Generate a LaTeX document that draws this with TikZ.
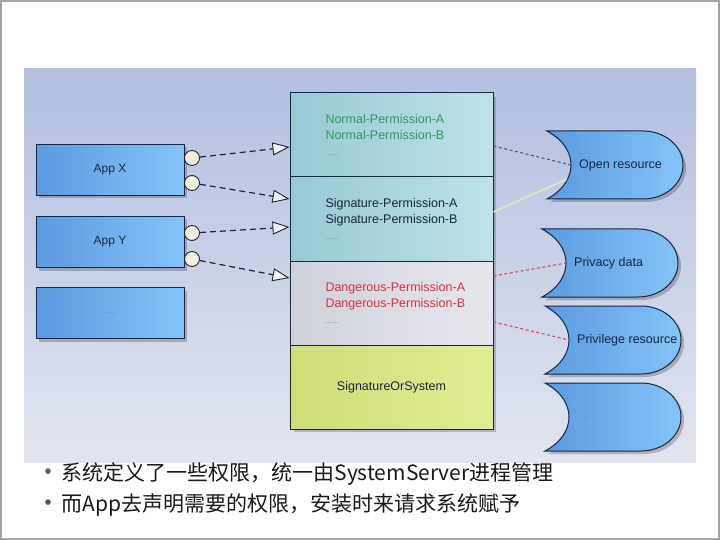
\documentclass[tikz,border=0pt]{standalone}
\usepackage{fontspec}
\setmainfont{Liberation Sans}
\newfontfamily\cjk{Noto Sans CJK SC}
\usepackage{tikz}
\usetikzlibrary{
	positioning,
	arrows.meta,
	calc,
	shadows
}
\definecolor{navy}{HTML}{1B2440}
\definecolor{panelT}{HTML}{B3BFE1}
\definecolor{panelB}{HTML}{E1E5EF}
\definecolor{appL}{HTML}{5B9BDF}
\definecolor{appR}{HTML}{84C4FA}
\definecolor{tealL}{HTML}{98C9D3}
\definecolor{tealR}{HTML}{BDE3E9}
\definecolor{grayL}{HTML}{CFD1DB}
\definecolor{grayR}{HTML}{E7E7EE}
\definecolor{yelL}{HTML}{D0DC76}
\definecolor{yelR}{HTML}{E2EC94}
\definecolor{portfill}{HTML}{F5F0DE}
\definecolor{tipfill}{HTML}{F2F2EC}
\definecolor{okgreen}{HTML}{2E9A5C}
\definecolor{badred}{HTML}{E0303C}
\definecolor{dotgray}{HTML}{7C8C94}
\definecolor{linkG}{HTML}{4E6458}
\definecolor{linkY}{HTML}{E3EBAE}
\definecolor{linkR}{HTML}{E0485A}
\definecolor{framegray}{HTML}{A6A6A6}
\tikzset{
	node distance=7pt,
	soft shadow/.style={
		drop shadow={shadow xshift=3pt, shadow yshift=-3pt, fill=black, opacity=.22}
	},
	app/.style={
		draw=navy, line width=1pt, left color=appL, right color=appR, soft shadow,
		minimum width=148pt, minimum height=51pt, text=navy,
		font=\fontsize{12}{14}\selectfont
	},
	port/.style={
		circle, draw=navy, line width=.9pt, fill=portfill,
		inner sep=0pt, minimum size=15pt
	},
	perm/.style={
		draw=navy, line width=1pt, minimum width=203pt, minimum height=84pt,
		text width=132pt, align=left, text=navy, font=\fontsize{12.5}{16}\selectfont
	},
	req/.style={
		draw=navy, line width=1.2pt, dash pattern=on 6pt off 4pt,
		-{Triangle[length=17pt, width=13pt, fill=tipfill, line width=.9pt]}
	},
	resshape/.style={
		draw=navy, line width=1pt, left color=appL, right color=appR, soft shadow
	},
	restext/.style={
		text=navy, inner sep=1pt, font=\fontsize{12.5}{14}\selectfont
	},
	link/.style={
		line width=1.1pt, dash pattern=on 3pt off 2.5pt
	},
	note/.style={
		anchor=west, text=black!90, font=\cjk\fontsize{21}{24}\selectfont
	},
	res/.pic={
		\draw[resshape] (0,0) -- (96,0) arc[start angle=-90, end angle=90, x radius=40, y radius=34]
			-- (0,68) .. controls (32,51) and (32,17) .. (0,0) -- cycle;
		\coordinate (-in) at (24,34);
		\coordinate (-low) at (20,48);
	}
}
\newcommand{\dotsline}{\textcolor{dotgray}{\fontsize{8}{8}\selectfont ......}}
\newcommand{\bul}{{\fontsize{26}{26}\selectfont\textcolor{black!65}{\raisebox{-1.5pt}{\textbullet}}}}

\begin{document}
\begin{tikzpicture}[x=1pt, y=-1pt]
	\useasboundingbox (0,0) rectangle (720,540);
	\fill[top color=panelT, bottom color=panelB] (24,69) rectangle (696,462);
	\draw[framegray, line width=2pt] (1,1) rectangle (719,539);

	\node[app] (appx) at (110,170) {App X};
	\node[app] (appy) at (110,242) {App Y};
	\node[app] (appz) at (110,313) {\dotsline};

	\fill[black, opacity=.2] (294,97) rectangle (496,432);
	\node[perm, left color=tealL, right color=tealR] (norm) at (391.5,135)
		{\mbox{\textcolor{okgreen}{Normal-Permission-A}}\\\mbox{\textcolor{okgreen}{Normal-Permission-B}}\\\dotsline};
	\node[perm, left color=tealL, right color=tealR] (sig) at (391.5,219)
		{\mbox{Signature-Permission-A}\\\mbox{Signature-Permission-B}\\\dotsline};
	\node[perm, left color=grayL, right color=grayR] (dang) at (391.5,303)
		{\mbox{\textcolor{badred}{Dangerous-Permission-A}}\\\mbox{\textcolor{badred}{Dangerous-Permission-B}}\\\dotsline};
	\node[perm, left color=yelL, right color=yelR, align=center] (sos) at (391.5,387) {SignatureOrSystem};

	\node[port] (px1) at (192,158) {};
	\node[port] (px2) at (192,183) {};
	\node[port] (py1) at (192,233) {};
	\node[port] (py2) at (192,259) {};

	\coordinate (n1) at ($(norm.west)+(0,12)$);
	\coordinate (s1) at ($(sig.west)+(0,-20)$);
	\coordinate (s2) at ($(sig.west)+(0,8)$);
	\coordinate (d1) at ($(dang.west)+(0,-25)$);

	\draw[req] (px1) -- (n1);
	\draw[req] (px2) -- (s1);
	\draw[req] (py1) -- (s2);
	\draw[req] (py2) -- (d1);

	\pic (open) at (547,131) {res};
	\pic (priv) at (542,229) {res};
	\pic (prl) at (545,306) {res};
	\pic (more) at (545,383) {res};

	\node[restext, right=of open-in] (opent) {Open resource};
	\node[restext, right=of priv-in] (privt) {Privacy data};
	\node[restext, right=of prl-in] (prlt) {Privilege resource};
	\node[restext, right=of more-in] (moret) {\dotsline};

	\coordinate (l1) at ($(norm.east)+(0,11)$);
	\coordinate (l2) at ($(sig.east)+(0,-7)$);
	\coordinate (l3) at ($(dang.east)+(0,-27)$);
	\coordinate (l4) at ($(dang.east)+(0,19)$);

	\draw[link, draw=linkG] (l1) -- (open-in);
	\draw[line width=1.5pt, draw=linkY] (l2) -- (open-low);
	\draw[link, draw=linkR] (l3) -- (priv-in);
	\draw[link, draw=linkR] (l4) -- (prl-in);

	\node[note] (line1) at (32,474) {\bul 系统定义了一些权限，统一由SystemServer进程管理};
	\node[note] (line2) at (32,505) {\bul 而App去声明需要的权限，安装时来请求系统赋予};
\end{tikzpicture}
\end{document}
